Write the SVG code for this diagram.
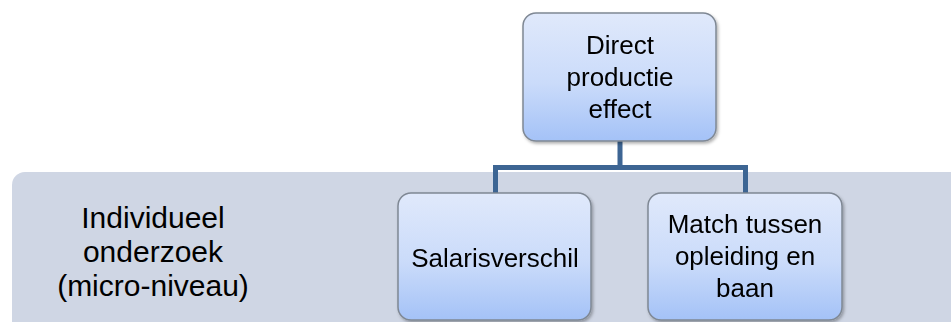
<svg xmlns="http://www.w3.org/2000/svg" width="951" height="322" viewBox="0 0 951 322">
<style>
.node{fill:url(#g);stroke:#7f8894;stroke-width:1.5}
.t{font-family:"Liberation Sans",Arial,sans-serif;font-size:26px;fill:#000;text-anchor:middle}
.big{font-size:30px}
.conn{fill:none;stroke:#3d6593;stroke-width:5}
</style>
<defs>
<linearGradient id="g" x1="0" y1="0" x2="0" y2="1">
<stop offset="0" stop-color="#e0e9fb"/>
<stop offset="0.55" stop-color="#cadbfa"/>
<stop offset="1" stop-color="#a4c2f7"/>
</linearGradient>
<filter id="sh" x="-10%" y="-10%" width="125%" height="125%">
<feDropShadow dx="1.5" dy="2" stdDeviation="1.5" flood-color="#000" flood-opacity="0.3"/>
</filter>
</defs>
<g id="band">
<rect x="12" y="172" width="960" height="170" rx="13" fill="#cfd6e4"/>
<text class="t big" x="153" y="228">Individueel</text>
<text class="t big" x="153" y="262">onderzoek</text>
<text class="t big" x="153" y="296">(micro-niveau)</text>
</g>
<g id="connectors">
<path class="conn" d="M620 141 V167.5 H745.5 V193 M620 167.5 H495.5 V193"/>
</g>
<g id="top" filter="url(#sh)">
<rect class="node" x="523" y="13" width="193" height="128" rx="13"/>
<text class="t" x="620" y="54">Direct</text>
<text class="t" x="620" y="86">productie</text>
<text class="t" x="620" y="118">effect</text>
</g>
<g id="salaris" filter="url(#sh)">
<rect class="node" x="398" y="193" width="193" height="127" rx="13"/>
<text class="t" x="495" y="267">Salarisverschil</text>
</g>
<g id="match" filter="url(#sh)">
<rect class="node" x="648" y="193" width="194" height="127" rx="13"/>
<text class="t" x="745" y="233">Match tussen</text>
<text class="t" x="745" y="265">opleiding en</text>
<text class="t" x="745" y="297">baan</text>
</g>
</svg>
